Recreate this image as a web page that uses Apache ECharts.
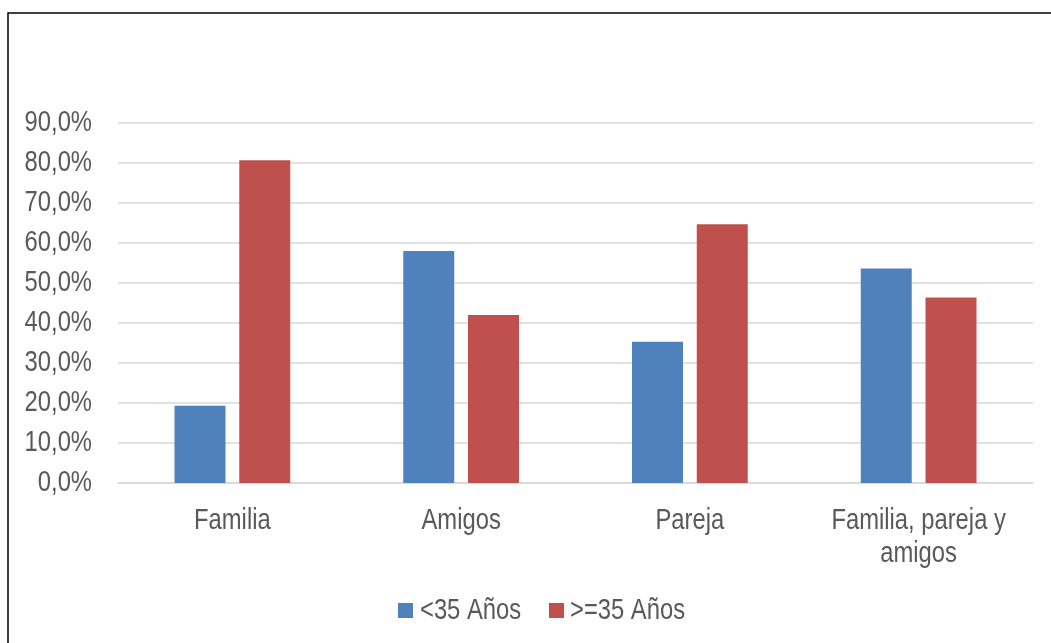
<!DOCTYPE html>
<html>
<head>
<meta charset="utf-8">
<script src="https://cdn.jsdelivr.net/npm/echarts@6/dist/echarts.min.js"></script>
<style>
  html, body { margin: 0; padding: 0; background: #fff; }
  #chart { width: 1051px; height: 643px; }
</style>
</head>
<body>
<div id="chart"></div>
<script>
// Categories and percentages per age group
const categories = ['Familia', 'Amigos', 'Pareja', 'Familia, pareja y\namigos'];
const menores35 = [19.3, 58.0, 35.3, 53.6];
const mayores35 = [80.7, 42.0, 64.7, 46.4];
const seriesNames = ['<35 Años', '>=35 Años'];
const yTicks = [0, 10, 20, 30, 40, 50, 60, 70, 80, 90];

const COLORS = ['#4f81bd', '#c0504d'];
const FONT = '"Liberation Sans", Arial, sans-serif';
const FONT_SIZE = 29;
const NARROW = 0.82;          // horizontal squeeze for a condensed look
const TEXT = '#595959';

const fmtPct = v => v.toFixed(1).replace('.', ',') + '%';

const chart = echarts.init(document.getElementById('chart'), null, { renderer: 'canvas' });

chart.setOption({
  animation: false,
  backgroundColor: '#ffffff',
  grid: { left: 118, right: 18, top: 123, bottom: 160 },
  xAxis: {
    type: 'category',
    data: categories,
    axisLine: { show: true, lineStyle: { color: '#d9d9d9', width: 1.5 } },
    axisTick: { show: false },
    axisLabel: { show: false }
  },
  yAxis: {
    type: 'value',
    min: yTicks[0], max: yTicks[yTicks.length - 1], interval: 10,
    axisLine: { show: false },
    axisTick: { show: false },
    splitLine: { lineStyle: { color: '#d9d9d9', width: 1.5 } },
    axisLabel: { show: false }
  },
  series: [
    {
      name: seriesNames[0], type: 'bar', data: menores35,
      barWidth: 51, barGap: '27%',
      itemStyle: { color: COLORS[0] }
    },
    {
      name: seriesNames[1], type: 'bar', data: mayores35,
      barWidth: 51,
      itemStyle: { color: COLORS[1] }
    }
  ]
});

// Condensed text labels placed through the axes' own scales
function label(text, x, y, align, vAlign) {
  return {
    type: 'text', x: x, y: y, scaleX: NARROW, silent: true,
    style: {
      text: text, fill: TEXT, fontFamily: FONT, fontSize: FONT_SIZE,
      align: align, verticalAlign: vAlign, lineHeight: 33
    }
  };
}

const graphics = [{
  type: 'rect', silent: true,
  shape: { x: 8, y: 13, width: 1200, height: 800 },
  style: { fill: 'none', stroke: '#000', lineWidth: 1.5 }
}];

yTicks.forEach(v => {
  const y = chart.convertToPixel({ yAxisIndex: 0 }, v);
  graphics.push(label(fmtPct(v), 92, y, 'right', 'middle'));
});

const axisY = chart.convertToPixel({ yAxisIndex: 0 }, 0);
categories.forEach((c, i) => {
  const x = chart.convertToPixel({ xAxisIndex: 0 }, i);
  graphics.push(label(c, x, axisY + 21, 'center', 'top'));
});

// Legend: colour squares with series names
const legendY = 611;
const legendItems = [{ x: 398, tx: 420 }, { x: 549, tx: 570 }];
seriesNames.forEach((name, i) => {
  graphics.push({
    type: 'rect', silent: true,
    shape: { x: legendItems[i].x, y: legendY - 8, width: 15, height: 15 },
    style: { fill: COLORS[i] }
  });
  graphics.push(label(name, legendItems[i].tx, legendY, 'left', 'middle'));
});

chart.setOption({ graphic: graphics });
</script>
</body>
</html>
